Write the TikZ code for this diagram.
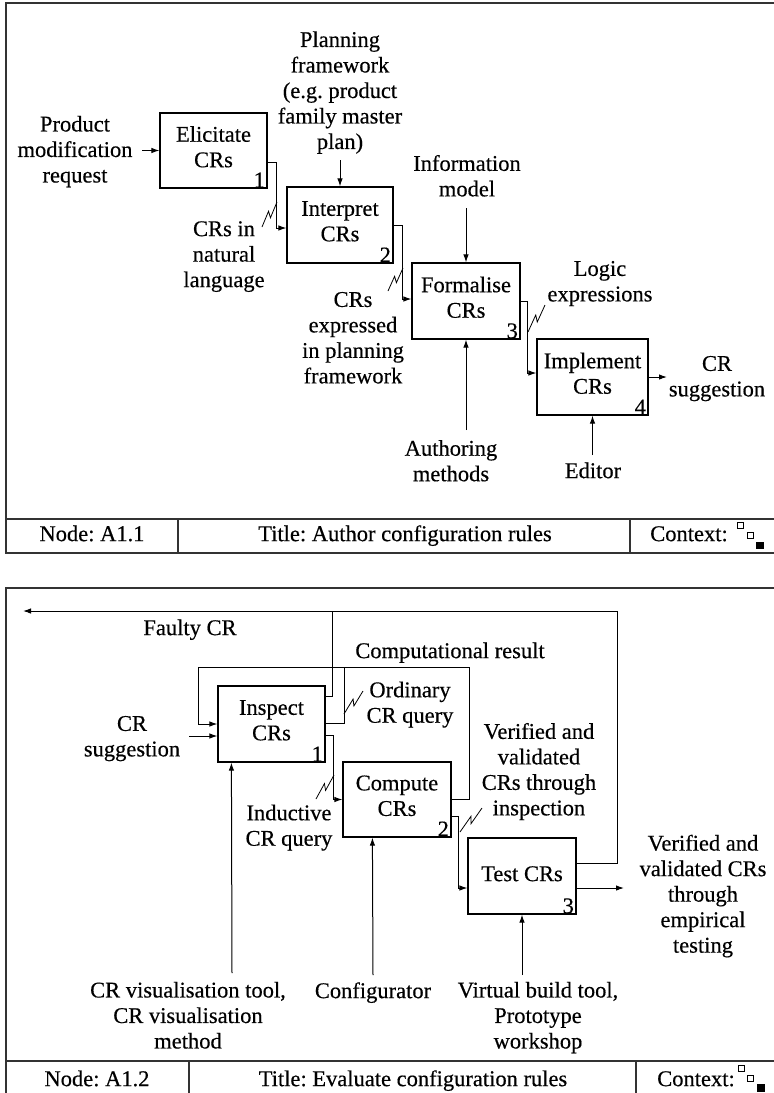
\documentclass[tikz,border=0pt]{standalone}
\usepackage{fontspec}
\setmainfont{Liberation Serif}[FakeBold=0.4]
\usetikzlibrary{calc,arrows.meta}
\frenchspacing
% zig-zag mark joining a label to its arrow
\newcommand\squig[2]{\draw[squigl] (#1) -- ($(#1)!0.58!(#2)!2.5pt!90:(#2)$) -- ($(#1)!0.42!(#2)!2.5pt!-90:(#2)$) -- (#2);}
\begin{document}
\begin{tikzpicture}[x=1pt,y=-1pt,
  every node/.style={font=\fontsize{22.5}{25.5}\selectfont, inner sep=0pt},
  lbl/.style={align=center, execute at begin node=\strut, execute at end node=\strut},
  proc/.style={draw, line width=1.2pt, align=center, execute at begin node=\strut, execute at end node=\strut},
  num/.style={anchor=south east, inner xsep=2.5pt, inner ysep=1pt},
  frame/.style={draw=black!80, line width=1.2pt},
  flow/.style={line width=1pt, -{Latex[length=8pt,width=5.5pt]}},
  plain/.style={line width=1pt},
  squigl/.style={line width=0.8pt},
  icon/.style={line width=0.8pt},
]
\useasboundingbox (0,0) rectangle (774,1093);

% ---------------- A1.1 : Author configuration rules ----------------
\draw[frame] (6,3) rectangle (780,553);
\draw[frame] (6,519) -- (780,519);
\draw[frame] (178,519) -- (178,553);
\draw[frame] (630,519) -- (630,553);
\node[lbl] (nodeA) at (92,536) {Node: A1.1};
\node[lbl] (titleA) at (405,536) {Title: Author configuration rules};
\node[lbl] (ctxA) at (689,536) {Context:};
\draw[icon] (737.5,522.5) rectangle +(6,6);
\draw[icon] (747,532.5) rectangle +(6,6);
\fill (756,542) rectangle +(8,7);

% activity boxes
\node[proc, minimum width=107pt, minimum height=75pt] (e1) at (213.5,150.5) {Elicitate\\CRs};
\node[num] at (e1.south east) {1};
\node[proc, minimum width=106pt, minimum height=76pt] (i2) at (340,225) {Interpret\\CRs};
\node[num] at (i2.south east) {2};
\node[proc, minimum width=108pt, minimum height=76pt] (f3) at (466,301) {Formalise\\CRs};
\node[num] at (f3.south east) {3};
\node[proc, minimum width=111pt, minimum height=76pt] (m4) at (592.5,377) {Implement\\CRs};
\node[num] at (m4.south east) {4};

% labels
\node[lbl] (pmr) at (75,153) {Product\\modification\\request};
\node[lbl] (pf) at (340,94) {Planning\\framework\\(e.g. product\\family master\\plan)};
\node[lbl] (cin) at (224,258) {CRs in\\natural\\language};
\node[lbl] (cex) at (353,341.5) {CRs\\expressed\\in planning\\framework};
\node[lbl] (info) at (467,179.5) {Information\\model};
\node[lbl] (logic) at (600,285) {Logic\\expressions};
\node[lbl] (auth) at (451,464.5) {Authoring\\methods};
\node[lbl] (editor) at (593,473) {Editor};
\node[lbl] (crs) at (717,380) {CR\\suggestion};

% free ends
\coordinate (pmrout) at (142,150.5);
\coordinate (pfin) at (340,160);
\coordinate (imin) at (466,208);
\coordinate (amin) at (466,430);
\coordinate (edin) at (592.5,455);
\coordinate (crsout) at (667,377);

% connectors
\draw[flow] (pmrout) -- (e1.west);
\draw[flow] (pfin) -- (i2.north);
\draw[flow] (imin) -- (f3.north);
\draw[flow] (amin) -- (f3.south);
\draw[flow] (edin) -- (m4.south);
\draw[flow] (m4.east) -- (crsout);
\draw[flow] ($(e1.north east)+(0,50)$) -| ($(i2.west)+(-10,3)$) -- ($(i2.west)+(0,3)$);
\draw[flow] ($(i2.north east)+(0,39)$) -| ($(f3.west)+(-9,-2)$) -- ($(f3.west)+(0,-2)$);
\draw[flow] ($(f3.north east)+(0,39)$) -| ($(m4.west)+(-9,-4)$) -- ($(m4.west)+(0,-4)$);

% squiggles
\coordinate (sq1a) at (262,227); \coordinate (sq1b) at (277,202);
\coordinate (sq2a) at (388,291); \coordinate (sq2b) at (403,268);
\coordinate (sq3a) at (528,332); \coordinate (sq3b) at (545,305);
\squig{sq1a}{sq1b}
\squig{sq2a}{sq2b}
\squig{sq3a}{sq3b}

% ---------------- A1.2 : Evaluate configuration rules ----------------
\draw[frame] (6,588) rectangle (780,1100);
\draw[frame] (6,1061) -- (780,1061);
\draw[frame] (189,1061) -- (189,1100);
\draw[frame] (636,1061) -- (636,1100);
\node[lbl] (nodeB) at (97,1081) {Node: A1.2};
\node[lbl] (titleB) at (413,1081) {Title: Evaluate configuration rules};
\node[lbl] (ctxB) at (696,1081) {Context:};
\draw[icon] (738.5,1065) rectangle +(6,6);
\draw[icon] (747.5,1075) rectangle +(6,6);
\fill (757,1084) rectangle +(8,8);

% activity boxes
\node[proc, minimum width=107pt, minimum height=76pt] (in1) at (271.5,724) {Inspect\\CRs};
\node[num] at (in1.south east) {1};
\node[proc, minimum width=108pt, minimum height=75pt] (c2) at (397,799.5) {Compute\\CRs};
\node[num] at (c2.south east) {2};
\node[proc, minimum width=108pt, minimum height=76pt] (t3) at (522,876) {Test CRs};
\node[num] at (t3.south east) {3};

% labels
\node[lbl] (fc) at (190,630) {Faulty CR};
\node[lbl] (cres) at (450,653) {Computational result};
\node[lbl] (ocq) at (410,706) {Ordinary\\CR query};
\node[lbl] (crsin2) at (132,740) {CR\\suggestion};
\node[lbl] (icq) at (289,829) {Inductive\\CR query};
\node[lbl] (vci) at (539,773) {Verified and\\validated\\CRs through\\inspection};
\node[lbl] (vce) at (703,897.5) {Verified and\\validated CRs\\through\\empirical\\testing};
\node[lbl] (viz) at (188,1019) {CR visualisation tool,\\CR visualisation\\method};
\node[lbl] (cfg) at (373,993) {Configurator};
\node[lbl] (vbt) at (538,1019) {Virtual build tool,\\Prototype\\workshop};

% free ends
\coordinate (fcout) at (23,611);
\coordinate (crin) at (189,736);
\coordinate (vcout) at (624,888);
\coordinate (mech1) at (232,973);
\coordinate (mech2) at (373,975);
\coordinate (mech3) at (522,975);

% connectors
\draw[flow] ($(t3.north east)+(0,26)$) -| (617,611) -- (fcout);
\draw[plain] ($(in1.north east)+(0,11)$) -| (332,611);
\draw[flow] (c2.east) -| (469,667) -| ($(in1.west)+(-19,0)$) -- (in1.west);
\draw[plain] ($(in1.east)+(0,-1)$) -| (344,667);
\draw[flow] (crin) -- ($(in1.west)+(0,12)$);
\draw[flow] ($(in1.east)+(0,11)$) -| ($(c2.west)+(-9,0)$) -- (c2.west);
\draw[flow] ($(c2.east)+(0,16.5)$) -| ($(t3.west)+(-9,12)$) -- ($(t3.west)+(0,12)$);
\draw[flow] ($(t3.east)+(0,12)$) -- (vcout);
\draw[flow] (mech1) -- ($(in1.south west)+(14,0)$);
\draw[flow] (mech2) -- ($(c2.south west)+(30,0)$);
\draw[flow] (mech3) -- (t3.south);

% squiggles
\coordinate (sq4a) at (344,714); \coordinate (sq4b) at (363,691);
\coordinate (sq5a) at (316,799); \coordinate (sq5b) at (334,775);
\coordinate (sq6a) at (460,832); \coordinate (sq6b) at (482,808);
\squig{sq4a}{sq4b}
\squig{sq5a}{sq5b}
\squig{sq6a}{sq6b}
\end{tikzpicture}
\end{document}
